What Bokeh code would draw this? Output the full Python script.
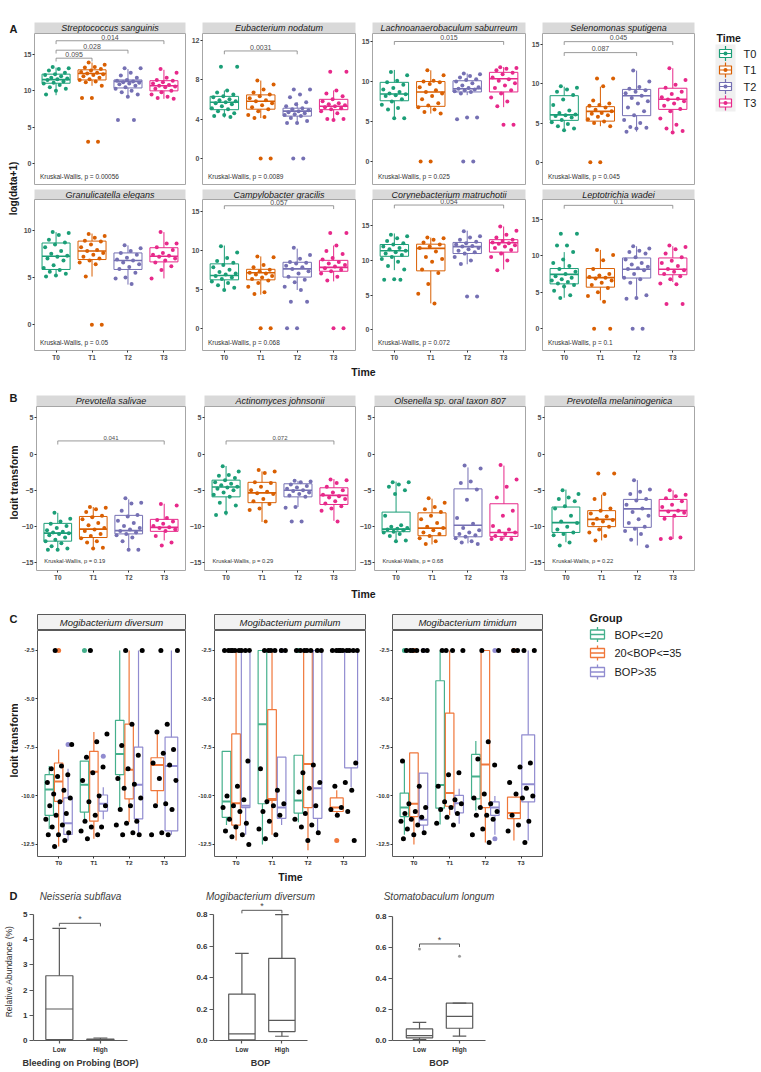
import numpy as np
from bokeh.plotting import figure
from bokeh.layouts import row, column
from bokeh.models import Range1d, FixedTicker, Spacer, PrintfTickFormatter, Title
from bokeh.core.properties import value
from bokeh.embed import file_html
from bokeh.resources import INLINE

FONT = "Liberation Sans"
DARK = "#1A1A1A"

# ---------------------------------------------------------------- data: panel A
TIMES = ["T0", "T1", "T2", "T3"]
TIME_COLORS = ["#1B9E77", "#D95F02", "#7570B3", "#E7298A"]

A_SPECIES = ["Streptococcus sanguinis", "Eubacterium nodatum", "Lachnoanaerobaculum saburreum",
             "Selenomonas sputigena", "Granulicatella elegans", "Campylobacter gracilis",
             "Corynebacterium matruchotii", "Leptotrichia wadei"]
A_KW = ["0.00056", "0.0089", "0.025", "0.045", "0.05", "0.068", "0.072", "0.1"]
A_YTICKS = [[0, 5, 10, 15], [0, 4, 8, 12], [0, 5, 10, 15], [0, 5, 10, 15],
            [0, 5, 10], [0, 5, 10, 15], [0, 5, 10, 15], [0, 5, 10, 15]]
A_YLIM = [(-2.9, 17.9), (-2.63, 12.67), (-2.86, 16.0), (-2.84, 16.44),
          (-2.72, 13.25), (-2.86, 16.5), (-3.0, 18.8), (-2.97, 17.7)]
# (lower whisker, q1, median, q3, upper whisker) per time point
A_BOX = [
    [(9.4, 11.05, 11.55, 12.3, 13.2), (10.7, 11.5, 12.4, 12.9, 13.9), (9.1, 10.4, 11.3, 11.5, 13.0), (8.9, 10.0, 10.7, 11.4, 12.9)],
    [(4.15, 4.95, 5.7, 6.3, 6.9), (4.1, 5.0, 5.8, 6.45, 7.9), (3.5, 4.3, 4.8, 5.1, 5.7), (3.9, 4.95, 5.3, 6.0, 6.9)],
    [(5.35, 7.6, 8.45, 9.9, 11.45), (6.0, 6.9, 8.7, 10.0, 11.4), (8.3, 8.7, 9.1, 10.1, 11.0), (6.8, 8.7, 10.35, 11.15, 11.8)],
    [(4.05, 5.35, 6.05, 8.5, 9.65), (4.6, 5.25, 6.5, 7.1, 9.65), (3.9, 5.95, 8.5, 9.3, 11.7), (3.8, 6.75, 8.05, 9.45, 12.0)],
    [(5.1, 5.85, 7.25, 8.65, 9.8), (5.1, 6.9, 7.8, 8.85, 9.65), (4.25, 5.85, 6.8, 7.6, 8.4), (4.9, 6.65, 7.25, 8.15, 9.8)],
    [(4.85, 6.2, 6.75, 8.25, 10.6), (4.3, 6.2, 7.1, 7.55, 9.2), (4.9, 6.55, 7.6, 8.45, 10.2), (6.0, 7.3, 7.8, 8.7, 10.6)],
    [(8.6, 10.6, 11.4, 12.3, 13.9), (3.8, 8.5, 11.75, 12.35, 13.3), (9.45, 11.0, 12.0, 12.6, 14.3), (8.7, 11.2, 12.55, 13.0, 14.9)],
    [(4.25, 6.15, 7.45, 8.25, 10.5), (3.9, 5.7, 7.0, 8.25, 10.8), (4.3, 6.95, 8.15, 9.7, 11.3), (6.4, 7.4, 8.15, 9.7, 11.3)],
]
A_PTS = [
    [[13.3, 13.1, 13.0, 12.8, 12.5, 12.3, 12.2, 12.0, 11.8, 11.7, 11.6, 11.5, 11.3, 11.1, 11.0, 10.8, 10.5, 10.3, 10.0, 9.5],
     [13.9, 13.6, 13.3, 13.2, 13.0, 12.8, 12.6, 12.5, 12.4, 12.3, 12.2, 12.0, 11.8, 11.6, 11.5, 11.3, 11.2, 10.7, 9.0, 9.0, 3.0, 3.0],
     [13.1, 13.1, 12.5, 12.1, 11.8, 11.5, 11.4, 11.3, 11.2, 11.1, 11.0, 10.9, 10.7, 10.5, 10.3, 10.0, 9.8, 9.5, 9.2, 6.0, 6.0],
     [13.0, 12.5, 11.8, 11.5, 11.4, 11.2, 11.0, 10.8, 10.7, 10.6, 10.5, 10.3, 10.0, 9.8, 9.5, 9.2, 9.0, 8.9]],
    [[9.3, 9.3, 6.9, 6.7, 6.5, 6.3, 6.2, 6.0, 5.9, 5.8, 5.7, 5.6, 5.5, 5.3, 5.1, 5.0, 4.8, 4.6, 4.4, 4.3, 4.2],
     [7.9, 7.5, 7.0, 6.7, 6.5, 6.3, 6.1, 5.9, 5.8, 5.6, 5.4, 5.2, 5.0, 4.8, 4.4, 4.2, 4.1, 0.0, 0.0],
     [7.0, 7.0, 6.5, 6.2, 5.7, 5.5, 5.3, 5.1, 5.0, 4.9, 4.8, 4.7, 4.6, 4.5, 4.4, 4.3, 4.1, 3.8, 3.6, 3.6, 0.0, 0.0],
     [8.8, 8.8, 6.9, 6.6, 6.3, 6.0, 5.8, 5.6, 5.5, 5.4, 5.3, 5.2, 5.1, 5.0, 4.8, 4.6, 4.0, 4.0, 3.9]],
    [[11.2, 10.8, 10.1, 9.9, 9.6, 9.2, 9.0, 8.7, 8.5, 8.4, 8.3, 8.2, 7.8, 7.5, 7.1, 6.7, 6.5, 5.4, 5.4],
     [11.4, 10.8, 10.1, 10.0, 9.9, 9.7, 9.3, 8.9, 8.7, 8.5, 8.2, 7.8, 7.3, 7.0, 6.8, 6.5, 6.2, 6.0, 0.0, 0.0],
     [11.0, 10.9, 10.7, 10.5, 10.3, 10.2, 10.0, 9.8, 9.5, 9.3, 9.2, 9.1, 9.0, 8.9, 8.8, 8.7, 8.5, 5.5, 5.5, 5.3, 0.0, 0.0],
     [11.8, 11.7, 11.6, 11.4, 11.1, 10.9, 10.5, 10.3, 10.1, 9.8, 9.5, 9.2, 8.9, 8.5, 8.0, 7.5, 6.9, 4.6, 4.6]],
    [[9.7, 9.5, 9.3, 9.0, 8.6, 8.0, 7.3, 6.6, 6.3, 6.1, 6.0, 5.9, 5.7, 5.4, 5.1, 4.9, 4.6, 4.3, 4.1],
     [10.7, 10.7, 9.7, 7.9, 7.5, 7.3, 7.2, 7.0, 6.7, 6.5, 6.3, 6.2, 6.0, 5.8, 5.5, 5.2, 5.0, 4.6, 0.0, 0.0],
     [11.7, 10.3, 9.6, 9.4, 9.2, 9.0, 8.8, 8.5, 8.2, 7.8, 7.5, 7.0, 6.5, 6.0, 5.4, 5.0, 4.5, 4.4, 4.3, 3.9],
     [12.0, 10.5, 9.9, 9.5, 9.0, 8.7, 8.3, 8.1, 8.0, 7.8, 7.5, 7.2, 6.8, 6.5, 5.6, 4.8, 4.3, 4.0, 3.8]],
    [[9.8, 9.7, 9.5, 9.0, 8.7, 8.5, 8.2, 7.8, 7.5, 7.3, 7.2, 7.0, 6.8, 6.3, 6.0, 5.8, 5.6, 5.4, 5.2, 5.1],
     [9.6, 9.4, 9.2, 8.9, 8.8, 8.5, 8.2, 7.9, 7.8, 7.6, 7.4, 7.2, 7.0, 6.8, 6.6, 6.4, 5.1, 0.0, 0.0],
     [8.4, 8.1, 7.8, 7.6, 7.4, 7.1, 6.9, 6.8, 6.6, 6.4, 6.1, 5.9, 5.5, 5.0, 4.9, 4.3],
     [9.8, 8.6, 8.6, 8.2, 7.9, 7.6, 7.4, 7.3, 7.2, 7.0, 6.8, 6.6, 6.2, 5.8, 4.9]],
    [[10.5, 9.7, 9.0, 8.6, 8.4, 8.1, 7.8, 7.5, 7.2, 7.0, 6.9, 6.7, 6.5, 6.3, 6.0, 5.8, 5.5, 5.2, 4.9],
     [9.2, 9.1, 8.1, 7.8, 7.5, 7.3, 7.1, 7.0, 6.9, 6.7, 6.5, 6.3, 6.1, 5.8, 5.3, 4.6, 4.4, 0.0, 0.0],
     [10.3, 9.4, 8.9, 8.5, 8.4, 8.3, 8.0, 7.8, 7.6, 7.3, 7.0, 6.6, 6.2, 5.9, 5.3, 4.9, 3.4, 3.4, 0.0, 0.0],
     [12.2, 12.2, 10.6, 9.9, 9.5, 9.0, 8.8, 8.5, 8.3, 8.1, 7.9, 7.7, 7.5, 7.3, 7.0, 6.6, 6.1, 0.0, 0.0]],
    [[13.7, 13.5, 13.2, 12.8, 12.5, 12.3, 12.0, 11.8, 11.6, 11.4, 11.2, 11.0, 10.8, 10.5, 10.2, 9.8, 9.2, 8.7, 7.3, 7.2, 7.2],
     [13.3, 13.2, 13.0, 12.6, 12.3, 12.0, 11.8, 11.3, 10.5, 10.2, 9.8, 8.7, 8.2, 6.6, 5.2, 3.8],
     [14.2, 13.5, 13.3, 13.0, 12.7, 12.5, 12.3, 12.1, 12.0, 11.8, 11.6, 11.4, 11.2, 11.0, 10.5, 10.0, 9.5, 4.8, 4.8],
     [14.9, 14.3, 13.7, 13.3, 13.0, 12.8, 12.6, 12.5, 12.4, 12.2, 12.0, 11.8, 11.5, 11.0, 10.5, 10.0, 8.6]],
    [[13.0, 13.0, 11.4, 11.4, 10.5, 9.5, 9.0, 8.6, 8.2, 7.8, 7.5, 7.2, 7.0, 6.8, 6.6, 6.4, 6.2, 6.0, 5.8, 5.2, 4.6, 4.2],
     [10.8, 10.1, 9.4, 8.2, 7.5, 7.3, 7.1, 7.0, 6.9, 6.6, 6.3, 6.0, 5.6, 5.0, 4.5, 3.7, 0.0, 0.0],
     [11.3, 11.0, 10.7, 10.5, 10.3, 9.8, 9.5, 9.0, 8.8, 8.5, 8.3, 8.2, 8.0, 7.5, 7.0, 6.8, 6.3, 4.6, 4.2, 4.1, 0.0, 0.0],
     [11.4, 11.2, 10.9, 10.3, 9.8, 9.3, 9.0, 8.6, 8.2, 8.0, 7.8, 7.5, 7.2, 6.8, 6.2, 6.1, 3.4, 3.4]],
]
# (from time index, to time index, bracket height, p label)
A_BRACKETS = [
    [(0, 1, 14.5, "0.095"), (0, 2, 15.6, "0.028"), (0, 3, 16.9, "0.014")],
    [(0, 2, 10.9, "0.0031")],
    [(0, 3, 15.0, "0.015")],
    [(0, 2, 14.0, "0.087"), (0, 3, 15.4, "0.045")],
    [],
    [(0, 3, 15.7, "0.057")],
    [(0, 3, 18.0, "0.054")],
    [(0, 3, 16.9, "0.1")],
]

# ---------------------------------------------------------------- data: panel B
B_SPECIES = ["Prevotella salivae", "Actinomyces johnsonii", "Olsenella sp. oral taxon 807",
             "Prevotella melaninogenica"]
B_KW = ["0.19", "0.29", "0.68", "0.22"]
B_YTICKS = [-15, -10, -5, 0, 5]
B_YLIM = (-16.04, 6.54)
B_BOX = [
    [(-13.2, -12.0, -10.9, -9.55, -8.1), (-13.1, -11.5, -10.35, -8.6, -7.3), (-13.05, -11.0, -10.55, -8.45, -6.25), (-11.9, -10.65, -10.1, -9.0, -6.85)],
    [(-8.45, -5.9, -4.55, -3.6, -1.65), (-9.35, -6.7, -5.35, -3.9, -2.4), (-7.3, -5.9, -5.0, -4.1, -3.7), (-9.2, -6.95, -5.7, -4.65, -3.45)],
    [(-11.9, -10.7, -10.35, -8.0, -3.8), (-12.45, -11.25, -10.2, -8.1, -6.15), (-12.3, -11.4, -9.8, -4.8, -1.85), (-11.7, -11.35, -10.8, -6.85, -1.6)],
    [(-12.15, -10.8, -9.45, -7.3, -4.9), (-11.9, -10.0, -9.0, -7.8, -5.6), (-12.6, -10.1, -7.55, -6.25, -3.6), (-11.7, -8.6, -7.8, -6.25, -5.0)],
]
B_PTS = [
    [[-8.1, -8.9, -9.3, -9.6, -9.9, -10.2, -10.5, -10.7, -10.8, -10.9, -11.0, -11.2, -11.5, -11.8, -12.0, -12.3, -12.7, -13.0, -13.2, -13.2],
     [-7.3, -7.4, -7.6, -8.0, -8.5, -8.7, -9.0, -9.5, -9.8, -10.2, -10.4, -10.6, -11.0, -11.3, -11.6, -12.0, -12.2, -12.9, -13.0],
     [-6.1, -6.7, -6.8, -7.8, -8.4, -8.6, -9.2, -9.5, -9.9, -10.2, -10.4, -10.6, -10.8, -11.0, -11.2, -11.5, -12.0, -13.2, -13.2],
     [-6.9, -7.1, -8.8, -9.1, -9.3, -9.6, -9.9, -10.1, -10.2, -10.4, -10.6, -11.3, -12.2, -12.6]],
    [[-1.7, -2.4, -2.9, -3.0, -3.3, -3.6, -3.9, -4.1, -4.3, -4.5, -4.6, -4.8, -5.0, -5.3, -5.6, -5.9, -6.7, -7.1, -8.1, -8.4],
     [-2.2, -2.4, -2.6, -3.9, -4.0, -4.5, -5.0, -5.2, -5.4, -5.5, -6.2, -6.5, -6.9, -7.5, -7.7, -9.3],
     [-3.7, -3.8, -3.9, -4.2, -4.4, -4.6, -4.8, -5.0, -5.1, -5.3, -5.5, -5.7, -5.9, -7.3, -7.4, -9.3, -9.3],
     [-3.5, -3.6, -4.0, -4.5, -5.0, -5.3, -5.6, -5.8, -6.0, -6.2, -6.5, -6.8, -7.2, -7.5, -7.8, -9.3]],
    [[-3.9, -3.9, -4.2, -4.5, -5.0, -5.5, -8.5, -9.8, -10.0, -10.2, -10.3, -10.4, -10.5, -10.7, -10.8, -11.0, -11.3, -11.9, -12.0],
     [-6.1, -6.7, -7.3, -7.6, -8.0, -8.5, -9.0, -9.5, -10.0, -10.2, -10.5, -10.8, -11.0, -11.3, -11.6, -12.0, -12.4],
     [-1.6, -2.0, -3.8, -4.0, -4.9, -6.3, -8.8, -9.6, -10.2, -10.5, -10.8, -11.0, -11.2, -11.4, -11.6, -12.0, -12.2, -12.4],
     [-1.5, -3.5, -4.5, -6.0, -7.8, -8.5, -9.9, -10.4, -10.6, -10.8, -11.0, -11.3, -11.7, -11.7, -11.7]],
    [[-5.0, -5.5, -6.0, -6.2, -6.5, -7.2, -7.5, -8.5, -9.3, -9.5, -10.0, -10.4, -10.8, -11.0, -11.2, -12.2, -12.6],
     [-2.7, -2.7, -5.5, -6.2, -7.5, -7.8, -8.2, -8.6, -8.9, -9.1, -9.3, -9.6, -10.0, -10.4, -10.8, -11.3, -11.9],
     [-3.6, -4.9, -5.2, -5.5, -6.2, -6.4, -7.0, -7.5, -8.0, -8.5, -9.0, -9.5, -10.0, -10.3, -10.6, -11.0, -11.8, -12.7],
     [-5.0, -5.6, -5.8, -6.1, -6.5, -7.0, -7.3, -7.8, -7.9, -8.1, -8.5, -8.9, -11.5, -11.6, -11.7]],
]
B_BRACKETS = [[(0, 3, 1.8, "0.041")], [(0, 3, 1.8, "0.072")], [], []]

# ---------------------------------------------------------------- data: panel C
C_SPECIES = ["Mogibacterium diversum", "Mogibacterium pumilum", "Mogibacterium timidum"]
C_GROUPS = ["BOP<=20", "20<BOP<=35", "BOP>35"]
C_COLORS = ["#45B08C", "#F0773A", "#918CD0"]
C_YTICKS = [-12.5, -10.0, -7.5, -5.0, -2.5]
C_YLIM = (-13.12, -1.47)
# per facet, per time: (group, lower whisker, q1, median, q3, upper whisker)
C_BOX = [
    [[(0, -11.7, -11.0, -9.67, -8.9, -8.45), (1, -12.6, -10.28, -9.25, -8.3, -7.6), (2, -12.3, -11.98, -11.4, -10.1, -8.6)],
     [(0, -11.2, -10.83, -9.42, -8.2, -8.2), (1, -12.2, -11.3, -8.75, -7.7, -6.7), (2, -11.2, -10.78, -10.4, -9.95, -9.55)],
     [(0, -10.66, -8.9, -7.83, -6.1, -2.5), (1, -11.35, -10.15, -8.65, -6.3, -2.5), (2, -12.0, -11.18, -9.42, -7.48, -2.5)],
     [(1, -10.4, -9.72, -8.4, -8.03, -6.65), (2, -12.0, -11.8, -8.46, -6.97, -2.5)]],
    [[(0, -11.5, -11.1, -10.28, -7.7, -7.7), (1, -12.3, -11.5, -10.37, -6.8, -2.5), (2, -12.0, -10.6, -10.5, -2.5, -2.5)],
     [(0, -12.5, -10.4, -6.3, -2.5, -2.5), (1, -12.0, -10.23, -10.15, -5.55, -2.5), (2, -11.5, -11.15, -10.6, -8.0, -8.0)],
     [(0, -11.35, -10.88, -10.23, -7.9, -7.9), (1, -12.8, -10.6, -8.35, -2.5, -2.5), (2, -12.0, -11.15, -9.6, -2.5, -2.5)],
     [(1, -10.97, -10.8, -10.6, -10.1, -9.7), (2, -9.55, -8.55, -2.5, -2.5, -2.5)]],
    [[(0, -12.0, -11.06, -10.6, -9.85, -8.17), (1, -12.5, -11.06, -10.4, -7.78, -7.78), (2, -12.0, -11.5, -11.23, -8.82, -8.82)],
     [(0, -11.47, -10.63, -9.43, -4.06, -2.5), (1, -11.0, -10.53, -9.85, -5.73, -2.5), (2, -11.43, -10.87, -10.37, -9.97, -9.63)],
     [(0, -10.75, -10.15, -9.0, -7.86, -7.17), (1, -12.4, -10.6, -8.38, -2.5, -2.5), (2, -12.0, -11.0, -10.6, -10.3, -10.0)],
     [(1, -12.3, -11.17, -10.88, -10.06, -10.06), (2, -12.3, -10.3, -9.4, -6.85, -2.5)]],
]
# coloured outliers: (time, group, value)
C_OUT = [
    [(0, 1, -2.5), (1, 0, -2.5), (0, 2, -7.35), (1, 2, -7.95)],
    [(1, 2, -2.5), (2, 0, -2.5), (3, 1, -12.3)],
    [(0, 0, -2.5), (0, 1, -2.5), (0, 2, -2.5), (2, 2, -2.5), (2, 2, -12.2), (3, 1, -2.5)],
]
C_PTS = [
    [[-2.5, -7.35, -8.45, -8.6, -8.9, -9.0, -9.3, -9.7, -9.9, -10.1, -10.3, -10.5, -10.9, -11.0, -11.2, -11.5, -11.6, -11.9, -12.0, -12.0, -12.3, -12.6],
     [-2.5, -6.8, -7.2, -8.0, -8.5, -8.8, -9.2, -10.0, -10.3, -10.5, -11.0, -11.3, -11.6, -11.6, -11.8, -12.0, -12.2],
     [-2.5, -2.5, -6.3, -7.4, -7.9, -8.6, -9.1, -9.4, -9.6, -10.1, -10.5, -10.7, -11.3, -11.4, -11.5, -11.9, -12.0, -12.0],
     [-2.5, -2.5, -6.3, -6.7, -7.6, -7.8, -8.3, -8.4, -9.1, -9.2, -10.4, -10.5, -10.7, -11.9, -12.0, -12.0]],
    [[-2.5, -2.5, -2.5, -2.5, -2.5, -2.5, -2.5, -2.5, -2.5, -8.2, -9.5, -10.0, -10.2, -10.5, -10.6, -10.8, -11.2, -11.4, -11.6, -11.8, -12.0, -12.1, -12.5],
     [-2.5, -2.5, -2.5, -2.5, -2.5, -2.5, -8.6, -9.7, -10.3, -10.4, -10.5, -10.8, -11.0, -11.3, -11.7, -12.0, -12.2],
     [-2.5, -2.5, -2.5, -2.5, -2.5, -2.5, -2.5, -8.4, -8.8, -9.3, -9.6, -9.8, -10.5, -10.9, -11.2, -11.5, -11.6, -11.9, -12.3],
     [-2.5, -2.5, -2.5, -2.5, -2.5, -2.5, -2.5, -2.5, -2.5, -8.3, -9.3, -9.5, -9.7, -10.6, -10.7, -10.8, -11.0, -12.3]],
    [[-2.5, -2.5, -2.5, -2.5, -2.5, -2.5, -8.2, -9.5, -10.4, -10.6, -10.8, -10.9, -11.1, -11.2, -11.3, -11.5, -11.7, -11.9, -12.0, -12.2],
     [-2.5, -2.5, -2.5, -2.5, -8.8, -8.9, -9.5, -10.2, -10.3, -10.4, -10.6, -10.7, -10.9, -11.1, -11.4, -11.5],
     [-2.5, -2.5, -7.2, -8.1, -8.4, -9.9, -10.1, -10.4, -10.6, -10.8, -11.0, -11.0, -11.2, -11.7, -12.0, -12.4],
     [-2.5, -2.5, -2.5, -2.5, -8.3, -8.5, -9.3, -9.6, -9.9, -10.0, -10.1, -11.0, -11.3, -11.5, -11.8, -12.4]],
]

# ---------------------------------------------------------------- data: panel D
D_TITLES = ["Neisseria subflava", "Mogibacterium diversum", "Stomatobaculum longum"]
D_XLABELS = ["Bleeding on Probing (BOP)", "BOP", "BOP"]
D_CATS = ["Low", "High"]
D_BOX = [
    [(0.0, 0.04, 1.25, 2.57, 4.45), (0.0, 0.02, 0.04, 0.06, 0.1)],
    [(0.0, 0.004, 0.042, 0.295, 0.554), (0.027, 0.057, 0.128, 0.522, 0.8)],
    [(0.006, 0.017, 0.032, 0.075, 0.117), (0.028, 0.079, 0.156, 0.241, 0.241)],
]
D_OUT = [[], [], [(0, 0.591), (1, 0.544)]]
D_BRACKET = [4.65, 0.827, 0.623]
D_YTICKS = [[0, 1, 2, 3, 4, 5], [0.0, 0.2, 0.4, 0.6, 0.8], [0.0, 0.2, 0.4, 0.6, 0.8]]
D_YTOP = [5.516, 0.883, 0.897]
D_XR = [(0.37, 2.66), (0.29, 2.64), (0.325, 2.65)]


# ---------------------------------------------------------------- helpers
def spread(n, half):
    k = np.arange(n)
    return ((k * 0.6180339887 + 0.37) % 1.0 - 0.5) * 2.0 * half


def base_fig(w, h, xr, yr, lb=0, rb=0, tb=0, bb=0, xloc=None, yloc=None):
    p = figure(width=w, height=h, x_range=Range1d(*xr), y_range=Range1d(*yr),
               toolbar_location=None, output_backend="svg", title=None,
               min_border_left=lb, min_border_right=rb, min_border_top=tb,
               min_border_bottom=bb, x_axis_location=xloc, y_axis_location=yloc)
    p.grid.visible = False
    p.outline_line_color = None
    p.background_fill_color = "white"
    p.border_fill_color = "white"
    return p


def canvas(w, h):
    return base_fig(w, h, (0, w), (0, h))


def txt(p, x, y, s, size, style="normal", align="left", baseline="middle", color=DARK, angle=0.0):
    p.text(x=[x], y=[y], text=[s], text_font=value(FONT), text_font_size=size,
           text_font_style=style, text_align=align, text_baseline=baseline,
           text_color=color, angle=angle)


def style_ticks(ax, size, ticks, color="#4D4D4D", tick_out=2, standoff=1, bold=True):
    ax.ticker = FixedTicker(ticks=list(ticks))
    ax.axis_line_color = None
    ax.major_tick_line_color = "#333333"
    ax.major_tick_in = 0
    ax.major_tick_out = tick_out
    ax.minor_tick_line_color = None
    ax.major_label_text_font = FONT
    ax.major_label_text_font_size = size
    ax.major_label_text_font_style = "bold" if bold else "normal"
    ax.major_label_text_color = color
    ax.major_label_standoff = standoff


def strip(title, w, lb, tb, h, fill, border, size):
    s = base_fig(w, h + tb, (0, 1), (0, 1), lb=lb, rb=1, tb=tb, bb=0)
    s.background_fill_color = fill
    s.outline_line_color = border
    txt(s, 0.5, 0.5, title, size, style="italic", align="center")
    return s


def ab_panel(w, lb, frame_h, bb, show_x, ylim, yticks, boxes, pts, brackets, kw,
             kw_x, kw_size, br_size):
    p = base_fig(w, frame_h + bb, (0.4, 4.6), ylim, lb=lb, rb=1, tb=0, bb=bb,
                 xloc="below" if show_x else None, yloc="left")
    p.outline_line_color = "#A6A6A6"
    style_ticks(p.yaxis[0], "7px", yticks)
    if show_x:
        ax = p.xaxis[0]
        style_ticks(ax, "6.5px", [1, 2, 3, 4])
        ax.major_label_overrides = {i + 1: t for i, t in enumerate(TIMES)}
    span = ylim[1] - ylim[0]
    hw = 0.39
    for i in range(4):
        lo, q1, med, q3, hi = boxes[i]
        c = TIME_COLORS[i]
        x = i + 1
        p.segment(x0=[x, x], y0=[lo, q3], x1=[x, x], y1=[q1, hi], line_color=c, line_width=1)
        p.quad(left=[x - hw], right=[x + hw], bottom=[q1], top=[q3], fill_color=None,
               line_color=c, line_width=1)
        p.segment(x0=[x - hw], y0=[med], x1=[x + hw], y1=[med], line_color=c, line_width=1.6)
        ys = np.asarray(pts[i], dtype=float)
        p.scatter(x=x + spread(len(ys), 0.36), y=ys, size=4, color=c, line_width=0)
    for a, b, y, lab in brackets:
        d = 0.022 * span
        p.multi_line(xs=[[a + 1, a + 1, b + 1, b + 1]], ys=[[y - d, y, y, y - d]],
                     line_color="#808080", line_width=0.8)
        txt(p, (a + b) / 2 + 1, y + 0.008 * span, lab, br_size, align="center",
            baseline="bottom", color="#4D4D4D")
    txt(p, kw_x, ylim[0] + 0.055 * span, "Kruskal-Wallis, p = " + kw, kw_size, color="#333333")
    return p


def c_panel(ci, w, lb):
    p = base_fig(w, 226 + 12, (0.4, 4.6), C_YLIM, lb=lb, rb=1, tb=0, bb=12,
                 xloc="below", yloc="left")
    p.outline_line_color = "#595959"
    style_ticks(p.yaxis[0], "5.8px", C_YTICKS, color="#333333")
    p.yaxis[0].formatter = PrintfTickFormatter(format="%.1f")
    ax = p.xaxis[0]
    style_ticks(ax, "6px", [1, 2, 3, 4], color="#333333")
    ax.major_label_overrides = {i + 1: t for i, t in enumerate(TIMES)}
    pos = {}
    for t in range(4):
        entries = C_BOX[ci][t]
        n = len(entries)
        slot = 0.8 / n
        hw = 0.45 * slot
        for k, (g, lo, q1, med, q3, hi) in enumerate(entries):
            x = t + 1 + (k - (n - 1) / 2) * slot
            pos[(t, g)] = x
            c = C_COLORS[g]
            p.segment(x0=[x, x], y0=[lo, q3], x1=[x, x], y1=[q1, hi], line_color=c, line_width=1.2)
            p.quad(left=[x - hw], right=[x + hw], bottom=[q1], top=[q3], fill_color=None,
                   line_color=c, line_width=1.2)
            p.segment(x0=[x - hw], y0=[med], x1=[x + hw], y1=[med], line_color=c, line_width=2)
    for t, g, y in C_OUT[ci]:
        p.scatter(x=[pos[(t, g)]], y=[y], size=5, color=C_COLORS[g], line_width=0)
    for t in range(4):
        ys = np.asarray(C_PTS[ci][t], dtype=float)
        p.scatter(x=t + 1 + spread(len(ys), 0.38), y=ys, size=5, color="black", line_width=0)
    return p


D_H = 187
D_TB = 17
D_BB = 31


def d_panel(di, w, lb, rb):
    top = D_YTOP[di]
    p = base_fig(w, D_H, D_XR[di], (0, top), lb=lb, rb=rb, tb=D_TB, bb=D_BB,
                 xloc="below", yloc="left")
    p.title = Title(text=D_TITLES[di], align="center", text_font=FONT,
                    text_font_style="italic", text_font_size="10px",
                    text_color="#404040", standoff=0)
    lc = "#595959"
    for k in range(2):
        lo, q1, med, q3, hi = D_BOX[di][k]
        x = k + 1
        p.quad(left=[x - 0.33], right=[x + 0.33], bottom=[q1], top=[q3], fill_color=None,
               line_color=lc, line_width=1.2)
        p.segment(x0=[x - 0.33, x, x, x - 0.17, x - 0.17], y0=[med, lo, q3, lo, hi],
                  x1=[x + 0.33, x, x, x + 0.17, x + 0.17], y1=[med, q1, hi, lo, hi],
                  line_color=lc, line_width=1.2)
    for k, y in D_OUT[di]:
        p.scatter(x=[k + 1], y=[y], size=3, color="#9E9E9E", line_width=0)
    yb = D_BRACKET[di]
    d = 0.022 * top
    p.multi_line(xs=[[1, 1, 2, 2]], ys=[[yb - d, yb, yb, yb - d]], line_color=lc, line_width=1)
    txt(p, 1.5, yb + 0.03 * top, "*", "9px", align="center", color="#444444")
    ya = p.yaxis[0]
    style_ticks(ya, "8px", D_YTICKS[di], color="#333333", tick_out=4, standoff=2)
    ya.axis_line_color = lc
    ya.axis_line_width = 1.2
    ya.major_tick_line_color = lc
    ya.major_tick_line_width = 1.2
    ya.bounds = (0, D_YTICKS[di][-1])
    if di > 0:
        ya.formatter = PrintfTickFormatter(format="%.1f")
    xa = p.xaxis[0]
    style_ticks(xa, "6.5px", [1, 2], color="#333333", tick_out=3, standoff=2)
    xa.axis_line_color = lc
    xa.axis_line_width = 1.2
    xa.major_tick_line_color = lc
    xa.major_tick_line_width = 1.2
    xa.major_label_overrides = {i + 1: c for i, c in enumerate(D_CATS)}
    xa.axis_label = D_XLABELS[di]
    xa.axis_label_text_font = FONT
    xa.axis_label_text_font_size = "9px"
    xa.axis_label_text_font_style = "bold"
    xa.axis_label_text_color = "#333333"
    xa.axis_label_standoff = 2
    return p


# ---------------------------------------------------------------- section A  (page y 0-385)
A_H = 385
A_W = [(166, 13), (170, 16), (170, 16), (169, 16)]
rowA = []
for r in range(2):
    cols = []
    for j in range(4):
        f = r * 4 + j
        w, lb = A_W[j]
        s = strip(A_SPECIES[f], w, lb, 22 if r == 0 else 0, 11, "#D9D9D9", None, "9px")
        pnl = ab_panel(w, lb, 151, 4 if r == 0 else 15, r == 1,
                       A_YLIM[f], A_YTICKS[f], A_BOX[f], A_PTS[f], A_BRACKETS[f], A_KW[f],
                       0.55, "6.5px", "7px")
        cols.append(column(s, pnl))
    rowA.append(row(*cols))
timeA = canvas(675, 20)
txt(timeA, 343, 14, "Time", "10.5px", style="bold", align="center")
midA = column(rowA[0], rowA[1], timeA)

labA = canvas(20, A_H)
txt(labA, 9, A_H - 28, "A", "11px", style="bold")
txt(labA, 13, A_H - 188, "log(data+1)", "10px", style="bold", align="center", angle=np.pi / 2)

legA = canvas(65, A_H)
txt(legA, 21, A_H - 37, "Time", "10.5px", style="bold")
legA.quad(left=[20], right=[40], bottom=[A_H - 111], top=[A_H - 44], fill_color="#F0F0F0",
          line_color=None)
for i, t in enumerate(TIMES):
    yc = A_H - (53 + 16.5 * i)
    xc = 30
    c = TIME_COLORS[i]
    legA.quad(left=[xc - 6], right=[xc + 6], bottom=[yc - 4], top=[yc + 4], fill_color="white",
              line_color=c, line_width=1.2)
    legA.segment(x0=[xc, xc, xc - 6], y0=[yc + 4, yc - 4, yc], x1=[xc, xc, xc + 6],
                 y1=[yc + 7.5, yc - 7.5, yc], line_color=c, line_width=1.2)
    legA.scatter(x=[xc], y=[yc], size=4, color=c, line_width=0)
    txt(legA, 48, yc, t, "11px")
secA = row(labA, midA, legA)

# ---------------------------------------------------------------- section B  (page y 385-603)
B_W = [(168, 15), (170, 16), (170, 16), (169, 16)]
colsB = []
for j in range(4):
    w, lb = B_W[j]
    s = strip(B_SPECIES[j], w, lb, 10, 11, "#D9D9D9", None, "9px")
    pnl = ab_panel(w, lb, 166, 11, True, B_YLIM, B_YTICKS, B_BOX[j], B_PTS[j], B_BRACKETS[j],
                   B_KW[j], 0.62, "5.8px", "6px")
    colsB.append(column(s, pnl))
timeB = canvas(677, 20)
txt(timeB, 345, 10, "Time", "10.5px", style="bold", align="center")
midB = column(row(*colsB), timeB)
labB = canvas(18, 218)
txt(labB, 9, 206, "B", "11px", style="bold")
txt(labB, 13, 121, "logit transform", "10.5px", style="bold", align="center", angle=np.pi / 2)
secB = row(labB, midB, Spacer(width=65, height=218))

# ---------------------------------------------------------------- section C  (page y 603-884)
C_W = [(168, 17), (180, 28), (177, 26)]
colsC = []
for j in range(3):
    w, lb = C_W[j]
    s = strip(C_SPECIES[j], w, lb, 11, 16, "#F2F2F2", "#595959", "9.5px")
    colsC.append(column(s, c_panel(j, w, lb)))
timeC = canvas(525, 16)
txt(timeC, 272, 8, "Time", "10.5px", style="bold", align="center")
midC = column(row(*colsC), timeC)
labC = canvas(18, 281)
txt(labC, 9, 266, "C", "11px", style="bold")
txt(labC, 13, 144, "logit transform", "10.5px", style="bold", align="center", angle=np.pi / 2)

legC = canvas(217, 281)
txt(legC, 46, 281 - 14, "Group", "11px", style="bold")
for i, g in enumerate(C_GROUPS):
    yc = 281 - ([634, 652.5, 671.5][i] - 603)
    xc = 54
    c = C_COLORS[i]
    legC.quad(left=[xc - 7], right=[xc + 7], bottom=[yc - 4.5], top=[yc + 4.5], fill_color=None,
              line_color=c, line_width=1.3)
    legC.segment(x0=[xc, xc, xc - 7], y0=[yc + 4.5, yc - 4.5, yc], x1=[xc, xc, xc + 7],
                 y1=[yc + 7.5, yc - 7.5, yc], line_color=c, line_width=1.3)
    txt(legC, 71, yc, g, "11px")
secC = row(labC, midC, legC)

# ---------------------------------------------------------------- section D  (page y 884-1071)
d1 = d_panel(0, 125, 15, 16)
d2 = d_panel(1, 182, 70, 18)
d3 = d_panel(2, 180, 67, 20)
# label strip with the same borders as the D plots, its frame spans page y 901-1040
D_FH = D_H - D_TB - D_BB
labD = base_fig(18, D_H, (0, 18), (0, D_FH), lb=0, rb=0, tb=D_TB, bb=D_BB)
labD.title = Title(text="D", align="left", text_font=FONT, text_font_style="bold",
                   text_font_size="11px", text_color=DARK, standoff=0, offset=9)
txt(labD, 8, 1040 - 971, "Relative Abundance (%)", "8.5px", align="center", angle=np.pi / 2,
    color="#333333")
secD = row(labD, d1, d2, d3, Spacer(width=255, height=D_H))

layout = column(secA, secB, secC, secD)
open("out.html", "w").write(file_html(layout, INLINE))
